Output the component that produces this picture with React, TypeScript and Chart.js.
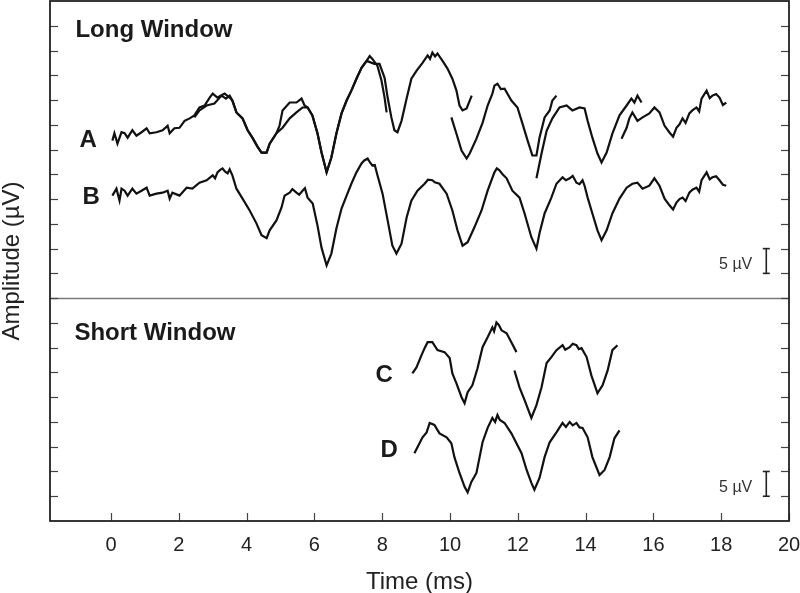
import React, { useEffect, useRef } from "react";
import { Chart, registerables } from "chart.js";

Chart.register(...registerables);

type Pt = [number, number];

// Axis ticks
const xTickValues = [0, 2, 4, 6, 8, 10, 12, 14, 16, 18, 20];
const yTickValues = [5, 10, 15, 20, 25, 30, 35, 40, 45, 50, 55, 60, 65, 70, 75, 80, 85, 90, 95, 100];

// Trace A (long window, overlapping sweeps) — time (ms), amplitude (µV, offset)
const traceA1: Pt[] = [
  [0.04, 76.8], [0.1, 78.3], [0.19, 76.2], [0.31, 78.5], [0.4, 78.3], [0.49, 77.4], [0.63, 78.9],
  [0.75, 77.8], [0.9, 78.5], [1.05, 79.3], [1.14, 78.3], [1.34, 78.5], [1.52, 78.9], [1.67, 79.8],
  [1.73, 78.3], [1.87, 79.3], [2.02, 79.4], [2.17, 80.8], [2.32, 81.3], [2.46, 81.9], [2.61, 83.5],
  [2.76, 83.9], [2.91, 85.5], [3.0, 86.3], [3.14, 85.5], [3.35, 86.3], [3.5, 85.5], [3.58, 84.9],
  [3.7, 82.5], [3.88, 81.3], [4.03, 78.9], [4.17, 77.4], [4.32, 75.6], [4.44, 74.4], [4.59, 74.4],
  [4.68, 76.2], [4.88, 78.3], [4.97, 79.8], [5.06, 82.9], [5.27, 84.5], [5.47, 84.5], [5.62, 85.3],
  [5.71, 83.9], [5.8, 83.5], [5.94, 81.9], [6.09, 78.3], [6.21, 74.4], [6.36, 70.4], [6.5, 73.4],
  [6.65, 78.3], [6.8, 82.3], [6.95, 84.9], [7.09, 86.9], [7.24, 89.3], [7.39, 91.5], [7.54, 92.9],
  [7.63, 93.9], [7.71, 93.3], [7.86, 91.9], [7.98, 88.9], [8.07, 85.5], [8.13, 82.5],
];
const traceA2: Pt[] = [
  [2.46, 81.5], [2.61, 82.9], [2.82, 83.9], [3.05, 84.3], [3.26, 85.9], [3.39, 85.3], [3.5, 85.9],
  [3.58, 84.9], [3.7, 82.5], [3.88, 81.3], [4.03, 78.9], [4.17, 77.4], [4.32, 75.6], [4.44, 74.4],
  [4.59, 74.4], [4.68, 76.2], [4.88, 78.3], [5.06, 79.4], [5.27, 81.3], [5.47, 82.5], [5.65, 83.5],
  [5.8, 83.5], [5.94, 81.9], [6.09, 78.3], [6.21, 74.4], [6.36, 70.4], [6.5, 73.4], [6.65, 78.3],
  [6.8, 82.3], [6.95, 84.9], [7.09, 86.9], [7.24, 89.3], [7.39, 91.5], [7.54, 92.9], [7.77, 92.3],
  [7.92, 92.3], [8.07, 89.5], [8.16, 85.5], [8.27, 81.5], [8.36, 78.9], [8.45, 78.5], [8.57, 80.8],
  [8.72, 85.3], [8.86, 89.3], [9.01, 90.9], [9.19, 92.5], [9.34, 94.0], [9.41, 93.3], [9.48, 94.6],
  [9.56, 93.8], [9.63, 94.4], [9.78, 92.9], [9.93, 91.3], [10.07, 89.3], [10.19, 86.9],
  [10.28, 83.9], [10.37, 82.9], [10.49, 83.3], [10.64, 85.9],
];
const traceA3: Pt[] = [
  [10.04, 81.5], [10.19, 78.2], [10.34, 74.8], [10.49, 73.2], [10.58, 74.2], [10.78, 77.2],
  [10.96, 80.4], [11.11, 83.9], [11.25, 86.3], [11.31, 87.9], [11.4, 88.3], [11.5, 87.2],
  [11.61, 87.3], [11.81, 84.9], [11.99, 83.5], [12.14, 80.2], [12.29, 76.8], [12.43, 73.8],
  [12.55, 73.8], [12.64, 77.4], [12.79, 81.5], [12.94, 82.9], [13.02, 84.9], [13.14, 85.9],
];
const traceA4: Pt[] = [
  [12.55, 69.2], [12.7, 74.2], [12.85, 78.8], [13.02, 81.3], [13.23, 83.5], [13.44, 83.9],
  [13.61, 82.9], [13.82, 83.5], [13.97, 83.3], [14.06, 80.8], [14.2, 77.4], [14.35, 74.2],
  [14.47, 72.4], [14.62, 74.4], [14.79, 78.2], [15.0, 81.9], [15.21, 83.9], [15.35, 85.3],
  [15.44, 84.5], [15.53, 85.9], [15.65, 84.5],
];
const traceA5: Pt[] = [
  [15.06, 77.2], [15.21, 79.4], [15.29, 81.3], [15.38, 82.5], [15.53, 80.8], [15.68, 81.5],
  [15.88, 82.3], [16.03, 83.5], [16.18, 82.5], [16.33, 79.8], [16.48, 78.4], [16.58, 77.6],
  [16.68, 79.4], [16.77, 80.1], [16.86, 81.3], [16.95, 80.4], [17.06, 82.3], [17.15, 82.9],
  [17.27, 83.5], [17.35, 82.7], [17.42, 85.3], [17.57, 86.9], [17.66, 85.4], [17.74, 85.9],
  [17.85, 86.2], [17.95, 85.5], [18.05, 84.0], [18.15, 84.5],
];

// Trace B (long window, single sweep)
const traceB: Pt[] = [
  [0.04, 65.7], [0.16, 67.1], [0.25, 64.7], [0.31, 67.1], [0.4, 66.7], [0.49, 65.7], [0.63, 67.1],
  [0.75, 66.1], [0.9, 66.7], [1.05, 67.3], [1.14, 65.7], [1.34, 66.1], [1.52, 66.3], [1.67, 66.7],
  [1.73, 65.1], [1.81, 66.3], [2.02, 65.7], [2.23, 67.3], [2.4, 67.1], [2.61, 68.3], [2.82, 68.8],
  [3.0, 69.8], [3.07, 69.2], [3.14, 70.4], [3.22, 70.9], [3.29, 71.2], [3.36, 70.6], [3.44, 70.2],
  [3.5, 71.0], [3.58, 69.8], [3.7, 67.1], [3.88, 65.1], [4.09, 62.7], [4.29, 60.1], [4.44, 57.7],
  [4.59, 57.1], [4.68, 58.7], [4.88, 60.7], [5.03, 63.3], [5.12, 65.7], [5.27, 66.3], [5.35, 67.0],
  [5.47, 66.3], [5.55, 65.9], [5.65, 66.7], [5.72, 67.2], [5.8, 65.3], [5.95, 64.1], [6.09, 59.7],
  [6.21, 55.2], [6.36, 51.6], [6.5, 54.0], [6.65, 59.1], [6.8, 63.1], [6.95, 65.7], [7.09, 68.1],
  [7.24, 70.4], [7.39, 72.2], [7.47, 72.8], [7.57, 73.2], [7.64, 72.4], [7.71, 71.8], [7.78, 71.9],
  [7.86, 69.8], [8.01, 66.1], [8.16, 60.7], [8.3, 55.6], [8.42, 54.0], [8.57, 56.0], [8.72, 61.3],
  [8.86, 64.7], [9.04, 66.7], [9.25, 68.1], [9.35, 68.9], [9.48, 68.8], [9.55, 68.4], [9.69, 68.1],
  [9.9, 66.1], [10.07, 62.7], [10.22, 58.7], [10.37, 55.6], [10.52, 56.3], [10.72, 59.3],
  [10.93, 62.7], [11.11, 66.7], [11.31, 70.4], [11.38, 71.2], [11.46, 70.8], [11.55, 70.0],
  [11.67, 69.2], [11.84, 66.7], [12.05, 65.3], [12.2, 62.1], [12.4, 57.3], [12.55, 55.0],
  [12.64, 58.1], [12.79, 62.1], [12.99, 65.3], [13.14, 68.1], [13.32, 69.4], [13.42, 68.8],
  [13.53, 69.2], [13.62, 69.7], [13.73, 68.3], [13.82, 68.0], [13.91, 68.8], [13.97, 67.7],
  [14.06, 65.3], [14.2, 62.1], [14.35, 58.7], [14.47, 56.7], [14.62, 58.7], [14.79, 62.1],
  [15.0, 65.1], [15.21, 67.3], [15.38, 68.1], [15.53, 68.3], [15.68, 67.1], [15.88, 67.7],
  [16.03, 69.2], [16.18, 67.7], [16.33, 65.1], [16.48, 63.7], [16.58, 62.9], [16.68, 64.3],
  [16.77, 65.0], [16.86, 65.3], [16.95, 64.6], [17.06, 66.3], [17.15, 66.9], [17.27, 67.3],
  [17.35, 66.5], [17.42, 68.8], [17.57, 70.4], [17.66, 69.0], [17.74, 69.4], [17.85, 69.6],
  [17.95, 68.8], [18.05, 67.9], [18.15, 67.7],
];

// Trace C (short window, two sweeps)
const traceC1: Pt[] = [
  [8.89, 29.8], [9.01, 31.0], [9.16, 33.5], [9.25, 34.9], [9.34, 36.1], [9.48, 36.1], [9.63, 34.5],
  [9.84, 34.1], [9.99, 32.9], [10.07, 29.8], [10.19, 27.8], [10.34, 25.0], [10.43, 23.8],
  [10.52, 26.0], [10.66, 27.4], [10.81, 30.8], [10.96, 35.1], [11.11, 37.1], [11.25, 39.1],
  [11.3, 38.3], [11.37, 40.1], [11.44, 39.6], [11.52, 38.5], [11.67, 37.9], [11.81, 36.1],
  [11.96, 34.1],
];
const traceC2: Pt[] = [
  [11.9, 30.4], [12.05, 27.0], [12.2, 24.4], [12.4, 20.8], [12.55, 23.4], [12.7, 27.0],
  [12.85, 31.9], [12.99, 33.1], [13.14, 34.5], [13.32, 35.5], [13.4, 34.6], [13.53, 35.1],
  [13.62, 35.8], [13.73, 35.5], [13.8, 34.7], [13.88, 34.9], [14.03, 33.1], [14.17, 29.4],
  [14.35, 25.8], [14.5, 27.4], [14.65, 30.4], [14.79, 34.5], [14.94, 35.5],
];

// Trace D (short window, single sweep)
const traceD: Pt[] = [
  [8.95, 13.7], [9.04, 14.9], [9.19, 16.9], [9.31, 17.9], [9.4, 19.8], [9.54, 19.4], [9.69, 17.7],
  [9.9, 16.9], [10.04, 15.7], [10.13, 12.9], [10.28, 9.7], [10.43, 6.9], [10.52, 5.8], [10.63, 7.9],
  [10.78, 9.7], [10.96, 15.9], [11.11, 18.8], [11.25, 20.8], [11.33, 20.0], [11.4, 21.4],
  [11.47, 20.4], [11.61, 19.8], [11.81, 17.7], [11.96, 15.7], [12.11, 13.7], [12.26, 10.3],
  [12.4, 7.7], [12.49, 6.3], [12.64, 8.7], [12.79, 12.9], [12.94, 15.9], [13.14, 17.9],
  [13.32, 19.8], [13.42, 19.0], [13.53, 20.0], [13.62, 19.3], [13.73, 19.8], [13.82, 18.9],
  [13.91, 18.8], [14.06, 16.9], [14.2, 12.9], [14.41, 9.3], [14.56, 10.3], [14.71, 12.9],
  [14.85, 16.7], [15.0, 18.3],
];

const allTraces: Pt[][] = [traceA1, traceA2, traceA3, traceA4, traceA5, traceB, traceC1, traceC2, traceD];

// Panel divider level and 5 µV calibration bars
const dividerLevel = 45;
const calBarTime = 19.33;
const calBars: Pt[] = [[50, 55], [5, 10]];
const calLabel = "5 \u00B5V";

// Text annotations (data coordinates)
const panelLabels = [
  { text: "Long Window", t: -1.05, v: 97.7, bold: true },
  { text: "A", t: -0.93, v: 75.5, bold: true },
  { text: "B", t: -0.84, v: 64.0, bold: true },
  { text: "Short Window", t: -1.08, v: 36.6, bold: true },
  { text: "C", t: 7.8, v: 28.1, bold: true },
  { text: "D", t: 7.95, v: 12.9, bold: true },
];

const FONT = "'Liberation Sans', Arial, Helvetica, sans-serif";

const overlayPlugin = {
  id: "overlay",
  afterDraw(chart: any) {
    const { ctx, chartArea: a, scales } = chart;
    const x = scales.x;
    const y = scales.y;
    const seg = (x1: number, y1: number, x2: number, y2: number) => {
      ctx.beginPath();
      ctx.moveTo(x1, y1);
      ctx.lineTo(x2, y2);
      ctx.stroke();
    };
    ctx.save();
    // divider between panels
    ctx.strokeStyle = "#7a7a7a";
    ctx.lineWidth = 1.3;
    const dy = Math.round(y.getPixelForValue(dividerLevel)) + 0.5;
    seg(a.left, dy, a.right, dy);
    // inward ticks
    ctx.strokeStyle = "#444";
    ctx.lineWidth = 1.2;
    for (const v of yTickValues) {
      const py = Math.round(y.getPixelForValue(v)) + 0.5;
      seg(a.left, py, a.left + 8, py);
      seg(a.right - 8, py, a.right, py);
    }
    for (const t of xTickValues) {
      const px = Math.round(x.getPixelForValue(t)) + 0.5;
      seg(px, a.bottom, px, a.bottom - 8);
    }
    // frame
    ctx.strokeStyle = "#222";
    ctx.lineWidth = 1.8;
    ctx.strokeRect(a.left, a.top, a.right - a.left, a.bottom - a.top);
    // calibration bars
    ctx.strokeStyle = "#222";
    ctx.lineWidth = 1.6;
    const bx = x.getPixelForValue(calBarTime);
    ctx.fillStyle = "#333";
    ctx.font = `16px ${FONT}`;
    ctx.textAlign = "right";
    ctx.textBaseline = "alphabetic";
    for (const [lo, hi] of calBars) {
      const p1 = y.getPixelForValue(lo);
      const p2 = y.getPixelForValue(hi);
      seg(bx, p1, bx, p2);
      seg(bx - 3.5, p1, bx + 3.5, p1);
      seg(bx - 3.5, p2, bx + 3.5, p2);
      ctx.fillText(calLabel, bx - 14, (p1 + p2) / 2 + 8);
    }
    // panel labels
    ctx.fillStyle = "#1a1a1a";
    ctx.textAlign = "left";
    for (const l of panelLabels) {
      ctx.font = `${l.bold ? "bold " : ""}24px ${FONT}`;
      ctx.fillText(l.text, x.getPixelForValue(l.t), y.getPixelForValue(l.v));
    }
    ctx.restore();
  },
};

export default function App() {
  const ref = useRef<HTMLCanvasElement | null>(null);
  useEffect(() => {
    if (!ref.current) return;
    const chart = new Chart(ref.current, {
      type: "line",
      data: {
        datasets: allTraces.map((tr) => ({
          data: tr.map(([t, v]) => ({ x: t, y: v })),
          borderColor: "#111",
          borderWidth: 2.2,
          pointRadius: 0,
          tension: 0,
          fill: false,
        })),
      },
      options: {
        animation: false,
        responsive: false,
        devicePixelRatio: 1,
        layout: { padding: { top: 1, right: 0, left: 0, bottom: 0 } },
        plugins: { legend: { display: false }, tooltip: { enabled: false } },
        scales: {
          x: {
            type: "linear",
            min: -1.8,
            max: 20,
            grid: { display: false, drawTicks: false },
            border: { display: false },
            afterBuildTicks: (s: any) => {
              s.ticks = xTickValues.map((value) => ({ value }));
            },
            afterFit: (s: any) => {
              s.height = 72;
              s.paddingLeft = 0;
              s.paddingRight = 11;
            },
            ticks: {
              padding: 12,
              color: "#222",
              font: { family: FONT, size: 20 },
              maxRotation: 0,
              autoSkip: false,
              callback: (v: any) => String(v),
            },
            title: {
              display: true,
              text: "Time (ms)",
              color: "#222",
              font: { family: FONT, size: 24, lineHeight: 0.9 },
              padding: 0,
            },
          },
          y: {
            type: "linear",
            min: 0,
            max: 105,
            grid: { display: false, drawTicks: false },
            border: { display: false },
            afterBuildTicks: (s: any) => {
              s.ticks = yTickValues.map((value) => ({ value }));
            },
            afterFit: (s: any) => {
              s.width = 50;
            },
            ticks: { display: false },
            title: {
              display: true,
              text: "Amplitude (\u00B5V)",
              color: "#222",
              font: { family: FONT, size: 24, lineHeight: 1 },
              padding: { top: 0.5, bottom: 0 },
            },
          },
        },
      },
      plugins: [overlayPlugin],
    });
    return () => chart.destroy();
  }, []);
  return (
    <div style={{ position: "fixed", left: 0, top: 0, width: 800, height: 593, background: "#fff" }}>
      <canvas ref={ref} width={800} height={593} />
    </div>
  );
}
